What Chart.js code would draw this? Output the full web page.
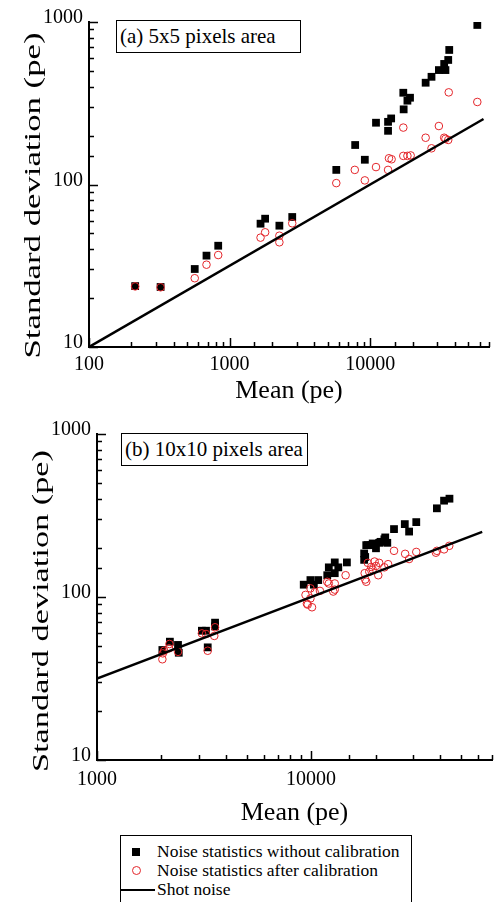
<!DOCTYPE html>
<html>
<head>
<meta charset="utf-8">
<script src="https://cdn.jsdelivr.net/npm/chart.js@4.4.1/dist/chart.umd.min.js"></script>
<style>
  body { margin: 0; background: #fff; }
  #wrap { position: relative; width: 500px; height: 902px; overflow: hidden; font-family: "Liberation Serif", "DejaVu Serif", serif; }
  canvas { position: absolute; left: 0; }
  #chartA { top: 0; }
  #chartB { top: 410px; }
  .panel-label { position: absolute; border: 1px solid #000; background: #fff; font-size: 21px; line-height: 31px; padding-left: 3px; box-sizing: border-box; white-space: nowrap; }
  #legend { position: absolute; left: 120px; top: 835px; width: 292px; height: 70px; border: 1px solid #000; box-sizing: border-box; font-size: 17.5px; }
  .row { position: absolute; left: 0; height: 19px; line-height: 19px; white-space: nowrap; }
  .row span.txt { position: absolute; left: 36px; top: 0; }
  .sq { position: absolute; left: 11px; top: 6px; width: 8px; height: 8px; background: #000; }
  .ci { position: absolute; left: 11px; top: 5px; width: 9px; height: 9px; border: 1px solid #e4262b; border-radius: 50%; box-sizing: border-box; }
  .ln { position: absolute; left: 0; top: 9px; width: 34px; height: 2px; background: #000; }
</style>
</head>
<body>
<div id="wrap">
  <canvas id="chartA" width="500" height="410"></canvas>
  <canvas id="chartB" width="500" height="422"></canvas>
  <div class="panel-label" style="left:116px;top:20px;width:185px;height:33px;">(a) 5x5 pixels area</div>
  <div class="panel-label" style="left:121px;top:433px;width:187px;height:33px;">(b) 10x10 pixels area</div>
  <div id="legend">
    <div class="row" style="top:6px;"><i class="sq"></i><span class="txt">Noise statistics without calibration</span></div>
    <div class="row" style="top:25px;"><i class="ci"></i><span class="txt">Noise statistics after calibration</span></div>
    <div class="row" style="top:44px;"><i class="ln"></i><span class="txt">Shot noise</span></div>
  </div>
</div>
<script>
'use strict';
// ---------- data ----------
// (a) 5x5 pixels area
const aRawMean = [57800, 36500, 35900, 33600, 30800, 34300, 27300, 24800, 17200, 19200, 18400, 17300, 14100, 13400,
    11000, 13400, 7820, 9160, 5740, 2790, 1790, 1660, 2260, 830, 565, 685, 213, 323];
const aRawSd = [959, 673, 584, 552, 506, 506, 460, 423, 367, 342, 328, 290, 255, 243,
    240, 214, 175, 142, 123, 63.1, 61.6, 57.4, 55.8, 42, 30.2, 36.5, 23.7, 23.4];
const aCalMean = [57800, 36200, 30800, 24800, 27300, 33600, 35900, 34300, 17200, 17200, 18400, 19400, 13600, 14200,
    13400, 11000, 7770, 9160, 5740, 2790, 1790, 1660, 2260, 2260, 565, 685, 830, 213, 323];
const aCalSd = [322, 369, 229, 194, 167, 194, 188, 191, 224, 150, 150, 151, 145, 143,
    123, 128, 123, 106, 102, 57.7, 50.8, 47.1, 48.4, 44.1, 26.5, 32.1, 36.8, 23.6, 23.3];
const aShotMean = [100, 64000];
const aShotSd = [10, 253];

// (b) 10x10 pixels area
const bRawMean = [2020, 2190, 2390, 2410, 3090, 3230, 3290, 3560, 3560,
    9240, 9930, 10300, 10800, 11900, 12900, 12100, 13400, 12900, 14700,
    17700, 17700, 17900, 18100, 19100, 20100, 21100, 22200, 20800, 19400, 18400, 22000,
    22700, 24400, 27400, 28700, 31000, 38700, 41800, 44300];
const bRawSd = [47.3, 53.2, 50.8, 45.5, 62.1, 62.1, 49.1, 69.6, 66,
    119, 127, 119, 127, 136, 140, 152, 152, 163, 163,
    169, 185, 176, 208, 208, 199, 218, 232, 215, 213, 208, 226,
    215, 261, 280, 252, 288, 350, 390, 401];
const bCalMean = [2020, 2030, 2060, 2170, 2180, 2390, 3090, 3230, 3290, 3530, 3560,
    9420, 9930, 9560, 10100, 9640, 9930, 10400, 11000, 11900, 12100, 12700, 12900, 12900, 14500,
    17800, 17900, 18100, 18400, 18700, 19100, 19400, 19800, 20100, 20600, 20800, 22000, 22900, 24400,
    27500, 28700, 31000, 38300, 38700, 41800, 44200];
const bCalSd = [41.5, 45.1, 46.8, 48.4, 51.5, 46.1, 59.8, 59.3, 46.8, 57.7, 65.2,
    103, 98, 91, 86.5, 89.8, 113, 107, 109, 124, 121, 108, 111, 121, 136,
    140, 128, 124, 162, 143, 153, 147, 165, 155, 136, 162, 152, 159, 192,
    184, 171, 189, 187, 192, 196, 206];
const bShotMean = [1000, 63000];
const bShotSd = [31.6, 251];

// tick labels shown on each axis
const yTickLabels = [10, 100, 1000];
const aXTickLabels = [100, 1000, 10000];
const bXTickLabels = [1000, 10000];

const FONT = '"Liberation Serif", "DejaVu Serif", serif';
const RED = '#e4262b';

const pts = (xs, ys) => xs.map((x, i) => ({ x, y: ys[i] }));
const isDecade = v => { const l = Math.log10(v); return Math.abs(l - Math.round(l)) < 1e-9; };

// rotated y title, stretched along its length to match the figure
const yTitlePlugin = {
    id: 'yTitle',
    afterDraw(chart, args, opts) {
        const { ctx, chartArea } = chart;
        ctx.save();
        ctx.font = '24px ' + FONT;
        const w = ctx.measureText(opts.text).width;
        ctx.translate(opts.x, (chartArea.top + chartArea.bottom) / 2 + opts.dy);
        ctx.rotate(-Math.PI / 2);
        ctx.scale(opts.len / w, 1);
        ctx.textAlign = 'center';
        ctx.textBaseline = 'middle';
        ctx.fillStyle = '#000';
        ctx.fillText(opts.text, 0, 0);
        ctx.restore();
    }
};

// Tick marks pointing into the plot: long at decades, short in between.
const innerTicksPlugin = {
    id: 'innerTicks',
    afterDatasetsDraw(chart) {
        const { ctx, chartArea, scales } = chart;
        ctx.save();
        ctx.strokeStyle = '#000';
        ctx.lineWidth = 1.5;
        ctx.beginPath();
        scales.x.ticks.forEach(t => {
            const px = Math.round(scales.x.getPixelForValue(t.value)) + 0.5;
            const len = isDecade(t.value) ? 9 : 5;
            ctx.moveTo(px, chartArea.bottom);
            ctx.lineTo(px, chartArea.bottom - len);
        });
        scales.y.ticks.forEach(t => {
            const py = Math.round(scales.y.getPixelForValue(t.value)) + 0.5;
            const len = isDecade(t.value) ? 9 : 5;
            ctx.moveTo(chartArea.left, py);
            ctx.lineTo(chartArea.left + len, py);
        });
        ctx.stroke();
        ctx.restore();
    }
};

// grid kept "on" (so the axis line is placed) but invisible
const hiddenGrid = { display: true, drawOnChartArea: false, drawTicks: false, color: 'rgba(0,0,0,0)' };

function makeChart(id, cfg) {
    return new Chart(document.getElementById(id), {
        type: 'scatter',
        data: {
            datasets: [
                {
                    label: 'Noise statistics after calibration',
                    data: pts(cfg.calMean, cfg.calSd),
                    pointStyle: 'circle',
                    pointRadius: 3.8,
                    borderColor: RED,
                    backgroundColor: 'rgba(0,0,0,0)',
                    borderWidth: 1,
                    order: 1,
                },
                {
                    label: 'Noise statistics without calibration',
                    data: pts(cfg.rawMean, cfg.rawSd),
                    pointStyle: 'rect',
                    pointRadius: 5.5,
                    backgroundColor: '#000',
                    borderColor: '#000',
                    borderWidth: 0,
                    order: 2,
                },
                {
                    type: 'line',
                    label: 'Shot noise',
                    data: pts(cfg.shotMean, cfg.shotSd),
                    borderColor: '#000',
                    borderWidth: 2.5,
                    pointRadius: 0,
                    fill: false,
                    tension: 0,
                    order: 0,
                },
            ],
        },
        options: {
            responsive: false,
            animation: false,
            devicePixelRatio: 1,
            layout: { padding: cfg.padding },
            plugins: {
                legend: { display: false },
                tooltip: { enabled: false },
                yTitle: { text: 'Standard deviation (pe)', x: cfg.titleX, dy: cfg.titleDy, len: cfg.titleLen },
            },
            scales: {
                x: {
                    type: 'logarithmic',
                    position: 'bottom',
                    min: cfg.xMin,
                    max: 70000,
                    afterFit: s => { s.height = cfg.xAxisH; },
                    border: { display: true, color: '#000', width: 2 },
                    grid: hiddenGrid,
                    ticks: {
                        autoSkip: false,
                        maxRotation: 0,
                        minRotation: 0,
                        padding: cfg.xTickPad,
                        color: '#000',
                        font: { family: FONT, size: 20 },
                        callback: v => cfg.xLabels.includes(v) ? String(v) : '',
                    },
                    title: {
                        display: true,
                        text: 'Mean (pe)',
                        color: '#000',
                        font: { family: FONT, size: 26 },
                        padding: { top: 0, bottom: 3 },
                    },
                },
                y: {
                    type: 'logarithmic',
                    position: 'left',
                    min: 10,
                    max: 1000,
                    afterFit: s => { s.width = cfg.yAxisW; },
                    border: { display: true, color: '#000', width: 2 },
                    grid: hiddenGrid,
                    ticks: {
                        autoSkip: false,
                        padding: 6,
                        labelOffset: -4,
                        color: '#000',
                        font: { family: FONT, size: 20 },
                        callback: v => yTickLabels.includes(v) ? String(v) : '',
                    },
                },
            },
        },
        plugins: [yTitlePlugin, innerTicksPlugin],
    });
}

makeChart('chartA', {
    rawMean: aRawMean, rawSd: aRawSd, calMean: aCalMean, calSd: aCalSd,
    shotMean: aShotMean, shotSd: aShotSd,
    xMin: 100, xLabels: aXTickLabels, xTickPad: 6,
    padding: { top: 22, right: 11, left: 0, bottom: 0 },
    yAxisW: 89, xAxisH: 63,
    titleX: 34, titleDy: 11, titleLen: 326,
});

makeChart('chartB', {
    rawMean: bRawMean, rawSd: bRawSd, calMean: bCalMean, calSd: bCalSd,
    shotMean: bShotMean, shotSd: bShotSd,
    xMin: 1000, xLabels: bXTickLabels, xTickPad: 8,
    padding: { top: 24, right: 3, left: 0, bottom: 0 },
    yAxisW: 97, xAxisH: 72,
    titleX: 42, titleDy: 14, titleLen: 322,
});
</script>
</body>
</html>
